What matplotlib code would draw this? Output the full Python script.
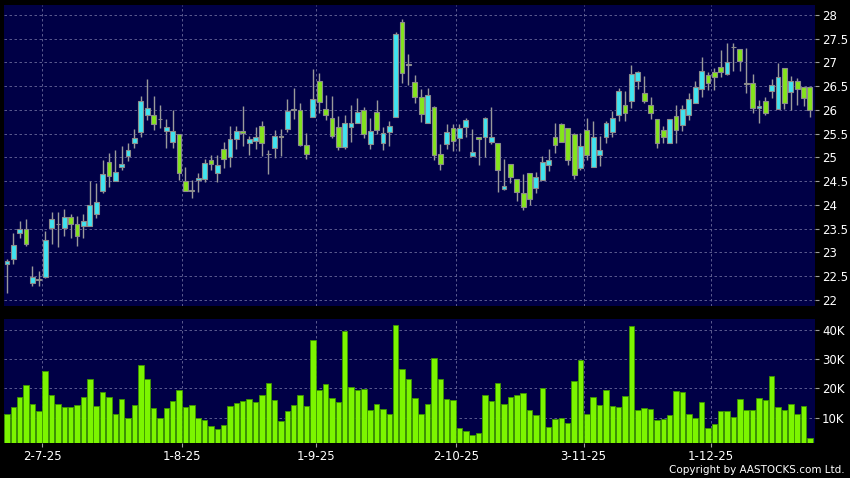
import numpy as np
import matplotlib.pyplot as plt

# daily OHLC (one entry per trading day)
opens = [22.76, 22.85, 23.40, 23.50, 22.35, 22.41, 22.49, 23.51, 23.59, 23.51,
         23.74, 23.59, 23.55, 23.55, 23.80, 24.30, 24.90, 24.50, 24.79, 25.04,
         25.30, 25.54, 25.90, 25.90, 25.80, 25.55, 25.33, 25.50, 24.50, 24.30,
         24.52, 24.54, 24.94, 24.68, 25.17, 25.00, 25.38, 25.55, 25.31, 25.35,
         25.67, 25.07, 25.19, 25.44, 25.59, 26.00, 26.00, 25.26, 25.85, 26.62,
         26.03, 25.82, 25.65, 25.21, 25.65, 25.73, 26.00, 25.28, 25.96, 25.30,
         25.53, 25.86, 27.85, 26.95, 26.58, 26.28, 25.72, 26.07, 25.08, 25.28,
         25.61, 25.40, 25.64, 25.02, 25.42, 25.44, 25.33, 25.31, 24.34, 24.86,
         24.54, 24.26, 24.68, 24.36, 24.52, 24.84, 25.42, 25.71, 25.61, 25.49,
         24.78, 25.58, 24.80, 25.05, 25.44, 25.54, 25.89, 26.11, 26.19, 26.61,
         26.35, 26.10, 25.81, 25.57, 25.30, 25.88, 25.68, 25.89, 26.14, 26.44,
         26.74, 26.79, 26.91, 26.76, 27.33, 27.28, 26.56, 26.56, 26.04, 26.18,
         26.39, 26.01, 26.89, 26.37, 26.61, 26.49, 26.49]
highs = [22.86, 23.40, 23.66, 23.70, 22.72, 22.61, 23.45, 23.85, 23.85, 23.91,
         23.81, 23.76, 23.81, 24.50, 24.46, 24.95, 25.10, 25.16, 25.24, 25.31,
         25.60, 26.30, 26.66, 26.30, 26.11, 25.81, 26.00, 25.50, 24.80, 24.52,
         24.68, 24.96, 25.06, 25.05, 25.33, 25.67, 25.67, 26.09, 25.45, 25.65,
         25.76, 25.16, 25.58, 25.59, 26.22, 26.46, 26.15, 25.52, 26.86, 26.77,
         26.32, 26.29, 25.87, 25.89, 26.10, 26.25, 26.07, 25.84, 26.20, 25.65,
         25.77, 27.65, 27.91, 27.17, 26.73, 26.45, 26.47, 26.08, 25.29, 25.71,
         25.70, 25.70, 25.84, 25.59, 25.42, 25.86, 26.06, 25.31, 24.96, 24.86,
         24.54, 24.65, 24.68, 24.69, 25.03, 25.17, 25.73, 25.73, 25.61, 25.52,
         25.51, 25.84, 25.77, 25.45, 25.77, 25.98, 26.47, 26.40, 26.94, 26.82,
         26.72, 26.28, 25.81, 25.67, 25.80, 26.11, 26.11, 26.35, 26.60, 27.11,
         26.79, 26.88, 27.26, 27.40, 27.40, 27.28, 27.30, 26.76, 26.21, 26.28,
         26.65, 26.98, 26.89, 26.72, 26.67, 26.49, 26.49]
lows = [22.15, 22.75, 23.30, 23.14, 22.29, 22.30, 22.46, 23.18, 23.11, 23.35,
        23.30, 23.14, 23.30, 23.55, 23.73, 24.25, 24.37, 24.50, 24.74, 24.93,
        25.19, 25.44, 25.79, 25.58, 25.62, 25.19, 25.19, 24.52, 24.29, 24.15,
        24.27, 24.48, 24.73, 24.48, 24.77, 24.80, 25.17, 25.24, 25.05, 25.17,
        25.03, 24.66, 24.98, 25.03, 25.54, 25.80, 25.23, 24.96, 25.85, 25.93,
        25.79, 25.40, 25.16, 25.17, 25.33, 25.73, 25.40, 25.17, 25.49, 25.16,
        25.24, 25.85, 26.56, 26.52, 26.15, 25.75, 25.72, 24.95, 24.74, 25.17,
        25.14, 25.14, 25.42, 25.02, 24.84, 25.00, 25.29, 24.27, 24.32, 24.47,
        24.08, 23.89, 23.99, 24.26, 24.52, 24.71, 25.10, 25.33, 24.85, 24.54,
        24.73, 24.94, 24.80, 24.82, 25.31, 25.44, 25.77, 25.77, 26.05, 26.44,
        26.15, 25.80, 25.20, 25.30, 25.30, 25.30, 25.56, 25.79, 26.14, 26.28,
        26.41, 26.43, 26.69, 26.74, 26.83, 26.83, 26.36, 25.94, 25.73, 25.89,
        26.25, 26.01, 26.03, 26.00, 26.11, 26.08, 25.86]
closes = [22.82, 23.15, 23.50, 23.18, 22.49, 22.44, 23.26, 23.70, 23.60, 23.74,
          23.59, 23.35, 23.67, 24.00, 24.06, 24.65, 24.60, 24.69, 24.86, 25.16,
          25.40, 26.19, 26.04, 25.70, 25.81, 25.64, 25.56, 24.67, 24.29, 24.31,
          24.57, 24.89, 24.87, 24.85, 24.96, 25.38, 25.55, 25.52, 25.38, 25.43,
          25.30, 25.07, 25.46, 25.43, 25.98, 26.00, 25.26, 25.07, 26.22, 26.16,
          25.89, 25.45, 25.21, 25.73, 25.73, 25.96, 25.49, 25.56, 25.58, 25.51,
          25.67, 27.61, 26.77, 26.95, 26.28, 25.91, 26.32, 25.05, 24.86, 25.54,
          25.35, 25.61, 25.78, 25.12, 25.38, 25.82, 25.44, 24.74, 24.39, 24.58,
          24.27, 23.96, 24.13, 24.59, 24.91, 24.94, 25.27, 25.33, 24.94, 24.62,
          25.24, 25.06, 25.42, 25.15, 25.73, 25.82, 26.40, 25.94, 26.75, 26.79,
          26.19, 25.93, 25.30, 25.43, 25.80, 25.58, 26.01, 26.23, 26.48, 26.83,
          26.56, 26.69, 26.79, 27.02, 27.32, 27.04, 26.54, 26.04, 26.09, 25.94,
          26.53, 26.69, 26.15, 26.61, 26.44, 26.25, 26.00]
# volume in thousands of shares
volume_k = [11.4, 13.8, 17.2, 21.3, 14.8, 12.3, 25.9, 17.9, 14.7, 13.8,
            13.7, 14.2, 16.9, 23.4, 14.1, 18.7, 17.2, 11.1, 16.4, 9.9,
            14.2, 27.9, 23.4, 13.4, 10.0, 13.4, 15.6, 19.4, 13.7, 14.2,
            9.9, 9.1, 7.0, 6.2, 7.6, 14.1, 15.0, 15.8, 16.4, 15.3,
            17.8, 22.0, 16.0, 8.7, 12.3, 14.2, 17.7, 14.0, 36.6, 19.5,
            21.6, 16.8, 15.3, 39.7, 20.4, 19.5, 19.7, 12.5, 14.8, 13.1,
            11.4, 41.7, 26.5, 23.4, 16.6, 11.3, 14.6, 30.5, 23.2, 16.5,
            16.0, 6.6, 5.5, 4.2, 4.8, 17.8, 15.7, 22.0, 14.7, 17.2,
            17.7, 18.6, 12.7, 10.9, 20.0, 6.9, 9.5, 9.9, 8.2, 22.6,
            29.7, 11.3, 17.0, 14.4, 19.4, 14.0, 13.7, 17.4, 41.4, 12.6,
            13.4, 13.0, 9.1, 9.4, 11.0, 19.0, 18.9, 11.4, 10.0, 15.3,
            6.6, 7.9, 12.3, 12.4, 10.3, 16.5, 12.5, 12.7, 16.6, 16.2,
            24.2, 13.6, 12.5, 14.8, 11.1, 13.9, 2.9]

date_pos = [5.5, 27.5, 48.5, 70.5, 90.5, 110.5]
date_labels = ["2-7-25", "1-8-25", "1-9-25", "2-10-25", "3-11-25", "1-12-25"]
price_ticks = [22, 22.5, 23, 23.5, 24, 24.5, 25, 25.5, 26, 26.5, 27, 27.5, 28]
vol_ticks = [10, 20, 30, 40]

x = np.arange(len(opens))
o = np.array(opens)
c = np.array(closes)
up = c >= o
body_low = np.minimum(o, c)
body_h = np.maximum(np.abs(c - o), 0.012)
colors = np.where(up, "#3fe3f0", "#84e41c")

bg = "#000046"
grid_kw = dict(color="#6a6a9a", linestyle=(0, (3, 3)), linewidth=0.6)

fig = plt.figure(figsize=(8.5, 4.78), dpi=100, facecolor="black")
ax = fig.add_axes([0.0047, 0.3598, 0.9541, 0.6297])
axv = fig.add_axes([0.0047, 0.0732, 0.9541, 0.2594])

for a in (ax, axv):
    a.set_facecolor(bg)
    for s in a.spines.values():
        s.set_visible(False)
    a.set_xlim(-0.47, 126.8)
    a.set_xticks(date_pos)
    a.yaxis.tick_right()
    a.tick_params(axis="y", colors="#a0a0a0", labelcolor="white", length=3,
                  width=0.8, labelsize=8.5, pad=2)
    a.grid(True, **grid_kw)
    a.set_axisbelow(True)

# candlesticks
ax.vlines(x, lows, highs, color="#9a9a9a", linewidth=1, zorder=2)
ax.bar(x, body_h, 0.75, bottom=body_low, color=colors, edgecolor="#8c8c8c",
       linewidth=0.8, zorder=3)
ax.set_ylim(21.87, 28.21)
ax.set_yticks(price_ticks)
ax.set_yticklabels([f"{v:g}" for v in price_ticks])
ax.tick_params(axis="x", length=0, labelbottom=False)

# volume
axv.bar(x, volume_k, 0.86, color="#7cf500", edgecolor="#3d9600",
        linewidth=0.6, zorder=3)
axv.set_ylim(1.3, 43.8)
axv.set_yticks(vol_ticks)
axv.set_yticklabels([f"{v}K" for v in vol_ticks])
axv.set_xticklabels(date_labels)
axv.tick_params(axis="x", colors="#a0a0a0", labelcolor="white", length=3,
                width=0.8, labelsize=8.5, pad=2)

fig.text(0.994, 0.006, "Copyright by AASTOCKS.com Ltd.", color="white",
         ha="right", va="bottom", fontsize=7.5)

fig.savefig("out.png", dpi=100, facecolor="black")
